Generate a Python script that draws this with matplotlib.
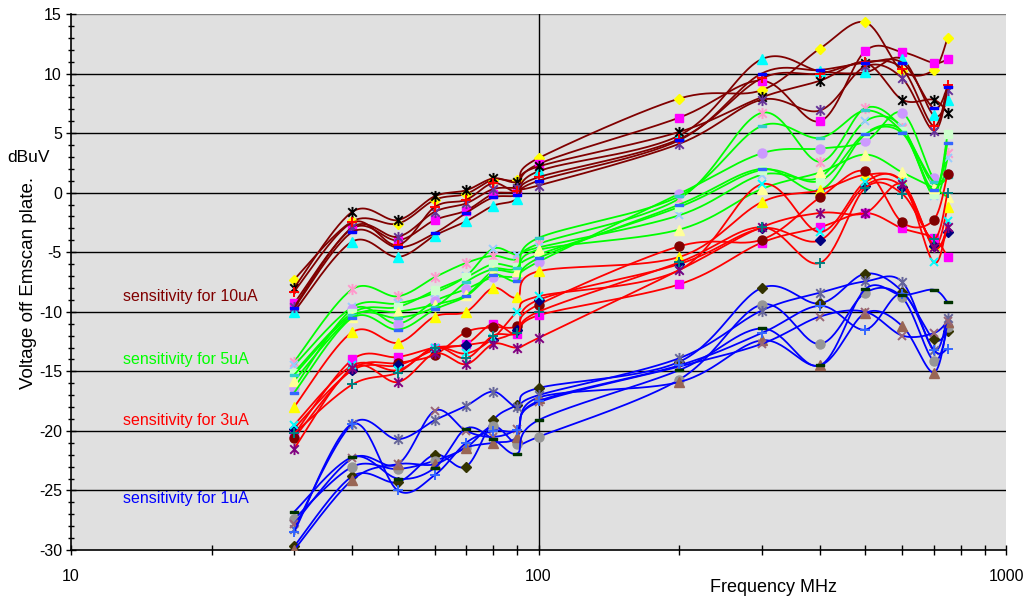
import numpy as np
import matplotlib
matplotlib.use("Agg")
import matplotlib.pyplot as plt
from matplotlib.path import Path
from matplotlib.ticker import FixedLocator, NullFormatter, FixedFormatter

plt.rcParams['font.family'] = ['Liberation Sans', 'DejaVu Sans']
plt.rcParams['axes.unicode_minus'] = False

freq_mhz = [30, 40, 50, 60, 70, 80, 90, 100, 200, 300, 400, 500, 600, 700, 750]

# ---- sensitivity for 10uA ----
s10_diamond = [-7.3, -2.4, -2.6, -0.6, -0.1, 1.1, 1.1, 2.9, 7.9, 8.6, 12.1, 14.3, 10.2, 10.3, 13.0]
s10_square = [-9.3, -3.0, -4.0, -2.3, -1.5, -0.1, 0.2, 2.4, 6.3, 9.4, 6.0, 11.9, 11.8, 10.9, 11.2]
s10_triangle = [-10.0, -4.1, -5.4, -3.6, -2.4, -1.1, -0.5, 1.8, 4.8, 11.2, 10.2, 10.1, 11.2, 6.5, 7.8]
s10_asterisk = [-8.0, -1.6, -2.3, -0.3, 0.2, 1.2, 0.9, 2.2, 5.1, 8.0, 9.4, 10.9, 7.8, 7.8, 6.7]
s10_star = [-9.6, -2.9, -3.7, -1.6, -0.9, 0.3, 0.4, 0.6, 4.1, 7.8, 6.9, 10.6, 9.6, 5.2, 8.6]
s10_plus = [-8.3, -2.5, -4.4, -1.2, -0.6, 0.8, 0.1, 1.3, 4.5, 9.6, 10.0, 11.0, 10.4, 5.6, 9.0]
s10_dash = [-9.7, -3.3, -4.6, -3.4, -1.7, -0.4, -0.2, 1.0, 4.4, 10.0, 10.3, 10.9, 10.9, 7.1, 8.9]

# ---- sensitivity for 5uA ----
s5_star = [-14.2, -8.1, -8.7, -7.1, -5.9, -5.3, -5.6, -4.3, -0.5, 6.7, 2.6, 7.1, 5.4, 0.7, 3.3]
s5_cross = [-14.5, -9.6, -9.3, -8.4, -7.0, -4.7, -5.2, -4.6, -1.9, 1.5, 1.3, 6.0, 5.5, -0.3, 2.9]
s5_circle = [-16.4, -9.8, -11.0, -9.1, -8.1, -7.1, -7.0, -5.8, -0.1, 3.3, 3.7, 4.3, 6.7, 1.2, 1.6]
s5_square = [-15.1, -10.1, -9.6, -8.2, -7.1, -6.0, -6.2, -5.2, -1.2, 1.9, 1.0, 5.0, 5.2, -0.1, 4.9]
s5_triangle = [-15.8, -10.4, -10.0, -9.4, -8.6, -6.6, -6.6, -4.8, -3.1, 0.3, 1.7, 3.2, 1.7, 0.4, -0.4]
s5_dash = [-15.3, -10.3, -10.5, -9.6, -7.5, -6.4, -6.3, -3.8, -0.3, 5.6, 4.6, 6.9, 5.1, 0.9, 1.3]
s5_bar = [-16.8, -10.5, -11.5, -9.8, -8.7, -6.9, -7.4, -5.5, -1.0, 2.0, 0.2, 4.9, 5.0, 0.2, 4.2]

# ---- sensitivity for 3uA ----
s3_triangle = [-18.0, -11.7, -12.6, -10.4, -10.0, -8.0, -8.8, -6.6, -5.4, -0.8, 0.2, 1.5, 0.9, -4.4, -1.2]
s3_square = [-20.3, -14.0, -13.8, -13.0, -12.7, -11.0, -11.9, -10.3, -7.7, -4.2, -2.9, -1.7, -3.0, -3.8, -5.4]
s3_circle = [-20.6, -14.8, -14.3, -13.6, -11.7, -11.3, -11.2, -9.4, -4.5, -3.95, -0.4, 1.8, -2.5, -2.3, 1.6]
s3_diamond = [-19.8, -14.9, -14.5, -13.2, -12.8, -12.4, -11.5, -9.0, -6.0, -3.0, -4.0, 0.6, 0.5, -4.45, -3.3]
s3_cross = [-19.5, -14.5, -14.9, -13.0, -13.5, -12.2, -10.0, -8.7, -6.5, 0.7, -3.3, 0.9, 0.9, -5.85, -2.4]
s3_star = [-21.5, -14.7, -15.9, -13.5, -14.4, -12.7, -13.0, -12.2, -6.5, -2.9, -1.7, -1.7, 0.7, -4.6, -2.9]
s3_plus = [-20.2, -16.1, -15.1, -13.0, -13.9, -12.0, -11.8, -10.0, -5.85, -2.9, -5.9, 0.4, -0.1, -3.9, 0.0]

# ---- sensitivity for 1uA ----
s1_diamond = [-29.7, -23.8, -24.3, -22.0, -23.0, -19.1, -17.8, -16.4, -14.2, -8.0, -9.3, -6.8, -8.3, -12.3, -11.6]
s1_circle = [-27.4, -23.0, -23.2, -22.5, -21.4, -19.6, -21.1, -20.5, -15.7, -9.4, -12.7, -8.4, -8.8, -14.1, -11.3]
s1_triangle = [-30.0, -24.1, -22.8, -22.8, -21.4, -21.0, -20.5, -17.2, -15.9, -12.4, -14.5, -10.1, -11.2, -15.1, -10.9]
s1_star = [-28.2, -19.4, -20.7, -19.1, -17.9, -16.7, -18.0, -17.0, -13.9, -9.9, -8.4, -7.45, -7.5, -13.2, -10.5]
s1_cross = [-27.8, -22.3, -22.8, -18.3, -20.0, -20.5, -19.8, -17.6, -14.6, -12.7, -10.4, -10.0, -12.0, -11.8, -10.8]
s1_plus = [-28.5, -19.4, -25.0, -23.7, -21.0, -20.0, -19.9, -17.5, -14.5, -11.8, -9.5, -11.5, -8.5, -13.2, -13.1]
s1_dash = [-26.8, -22.2, -24.0, -23.1, -19.8, -20.7, -21.9, -19.1, -14.9, -11.4, -14.5, -8.1, -8.6, -8.15, -9.2]

group_labels = ["sensitivity for 10uA", "sensitivity for 5uA",
                "sensitivity for 3uA", "sensitivity for 1uA"]
label_pos = [(12.9, -8.74), (12.9, -14.0), (12.9, -19.1), (12.9, -25.7)]

# custom marker shapes
STAR = Path([(-1, -1), (1, 1), (-1, 1), (1, -1), (0, -1.3), (0, 1.3)],
            [Path.MOVETO, Path.LINETO, Path.MOVETO, Path.LINETO, Path.MOVETO, Path.LINETO])
BAR = Path([(-1, -0.32), (1, -0.32), (1, 0.32), (-1, 0.32), (-1, -0.32)],
           [Path.MOVETO, Path.LINETO, Path.LINETO, Path.LINETO, Path.CLOSEPOLY])

MK = {
    'D': dict(marker='D', ms=5.5, filled=True),
    's': dict(marker='s', ms=6.0, filled=True),
    '^': dict(marker='^', ms=7.0, filled=True),
    'o': dict(marker='o', ms=6.5, filled=True),
    'x': dict(marker='x', ms=6.0, filled=False),
    '*': dict(marker=STAR, ms=8.0, filled=False),
    '+': dict(marker='+', ms=7.0, filled=False),
    '-': dict(marker=BAR, ms=6.0, filled=True),
}

groups = [
    ('#800000', [
        (s10_diamond, 'D', '#FFFF00'),
        (s10_square, 's', '#FF00FF'),
        (s10_triangle, '^', '#00FFFF'),
        (s10_asterisk, '*', '#000000'),
        (s10_star, '*', '#663399'),
        (s10_plus, '+', '#FF0000'),
        (s10_dash, '-', '#0000FF'),
    ]),
    ('#00FF00', [
        (s5_star, '*', '#FF99CC'),
        (s5_cross, 'x', '#99CCFF'),
        (s5_circle, 'o', '#CC99FF'),
        (s5_square, 's', '#CCFFCC'),
        (s5_triangle, '^', '#FFFF99'),
        (s5_dash, '-', '#33CCCC'),
        (s5_bar, '-', '#3366FF'),
    ]),
    ('#FF0000', [
        (s3_triangle, '^', '#FFFF00'),
        (s3_square, 's', '#FF00FF'),
        (s3_circle, 'o', '#800000'),
        (s3_diamond, 'D', '#000080'),
        (s3_cross, 'x', '#00FFFF'),
        (s3_star, '*', '#800080'),
        (s3_plus, '+', '#008080'),
    ]),
    ('#0000FF', [
        (s1_diamond, 'D', '#333300'),
        (s1_circle, 'o', '#969696'),
        (s1_triangle, '^', '#996655'),
        (s1_star, '*', '#666699'),
        (s1_cross, 'x', '#996677'),
        (s1_plus, '+', '#3366FF'),
        (s1_dash, '-', '#003300'),
    ]),
]

fig = plt.figure(figsize=(10.3, 6.01), dpi=100)
fig.patch.set_facecolor('white')
ax = fig.add_axes([71 / 1030, 1 - 550 / 601, (1006 - 71) / 1030, (550 - 14) / 601])
ax.set_xscale('log')
ax.set_xlim(10, 1000)
ax.set_ylim(-30, 15)
ax.set_facecolor('#E0E0E0')


def smooth_curve(xs, ys, n=30):
    """Bezier smoothing through every point, computed in screen space."""
    pts = ax.transData.transform(np.column_stack([xs, ys]))
    p = np.vstack([pts[0], pts, pts[-1]])
    t = np.linspace(0, 1, n, endpoint=False)[:, None]
    parts = []
    for i in range(1, len(p) - 2):
        p0, p1, p2, p3 = p[i - 1], p[i], p[i + 1], p[i + 2]
        c1 = p1 + (p2 - p0) / 6.0
        c2 = p2 - (p3 - p1) / 6.0
        b = ((1 - t) ** 3) * p1 + 3 * (1 - t) ** 2 * t * c1 + 3 * (1 - t) * t ** 2 * c2 + t ** 3 * p2
        parts.append(b)
    parts.append(pts[-1:])
    curve = ax.transData.inverted().transform(np.vstack(parts))
    return curve[:, 0], curve[:, 1]


# grid
for yv in range(-25, 16, 5):
    ax.axhline(yv, color='#000000' if yv < 15 else '#808080', lw=1.0, zorder=1)
ax.axvline(100, color='#000000', lw=1.0, zorder=1)

z = 2
for line_color, series in groups:
    for vals, mk, mcol in series:
        sx, sy = smooth_curve(freq_mhz, vals)
        ax.plot(sx, sy, color=line_color, lw=1.3, zorder=z)
        spec = MK[mk]
        ax.plot(freq_mhz, vals, linestyle='none', marker=spec['marker'], ms=spec['ms'],
                mfc=mcol if spec['filled'] else 'none', mec=mcol,
                mew=1.0 if spec['filled'] else 1.4, zorder=z + 0.5)
        z += 1

for (line_color, _), text, (tx, ty) in zip(groups, group_labels, label_pos):
    ax.text(tx, ty, text, color=line_color, fontsize=11.5, va='center', ha='left', zorder=200)

# axes, ticks
for side in ('top', 'right'):
    ax.spines[side].set_visible(False)
ax.spines['left'].set_linewidth(1.2)
ax.spines['bottom'].set_linewidth(1.2)

ax.yaxis.set_major_locator(FixedLocator(range(-30, 16, 5)))
ax.yaxis.set_minor_locator(FixedLocator(range(-30, 16, 1)))
ax.xaxis.set_major_locator(FixedLocator([10, 100, 1000]))
ax.xaxis.set_major_formatter(FixedFormatter(['10', '100', '1000']))
minor_x = [m * d for d in (10, 100) for m in range(2, 10)]
ax.xaxis.set_minor_locator(FixedLocator(minor_x))
ax.xaxis.set_minor_formatter(NullFormatter())
ax.tick_params(axis='y', which='major', direction='inout', length=7, width=1, labelsize=11.5, pad=3)
ax.tick_params(axis='y', which='minor', direction='inout', length=5, width=1)
ax.tick_params(axis='x', which='major', direction='inout', length=7, width=1, labelsize=11.5, pad=10)
ax.tick_params(axis='x', which='minor', direction='inout', length=7, width=1)

fig.text(774 / 1030, 1 - 587 / 601, 'Frequency MHz', fontsize=13, ha='center', va='center')
fig.text(28 / 1030, 1 - 158 / 601, 'dBuV', fontsize=12.5, ha='center', va='center')
fig.text(29 / 1030, 1 - 283 / 601, 'Voltage off Emscan plate.', fontsize=13.5,
         rotation=90, ha='center', va='center')

fig.savefig('out.png', dpi=100)
